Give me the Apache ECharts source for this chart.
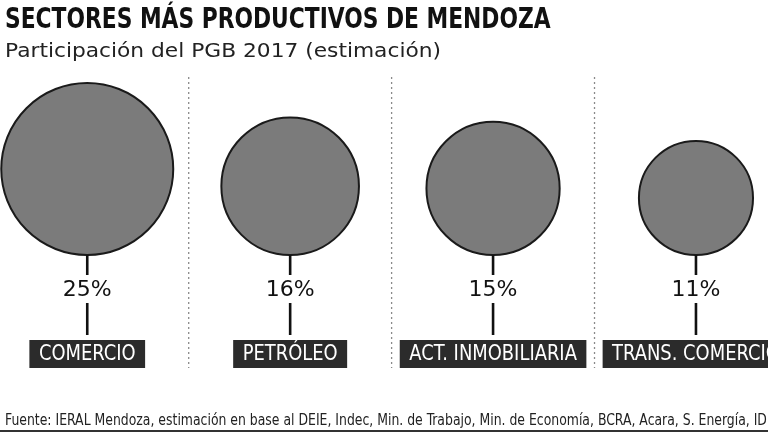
<!DOCTYPE html>
<html>
<head>
<meta charset="utf-8">
<script src="https://cdn.jsdelivr.net/npm/echarts@6/dist/echarts.min.js"></script>
<style>
  html, body { margin: 0; padding: 0; background: #fff; }
  #chart { width: 768px; height: 432px; }
</style>
</head>
<body>
<div id="chart"></div>
<script>
// ---- data ----
const categories = ['COMERCIO', 'PETRÓLEO', 'ACT. INMOBILIARIA', 'TRANS. COMERCIO'];
const shares = [25, 16, 15, 11];
const titleText = 'SECTORES MÁS PRODUCTIVOS DE MENDOZA';
const subtitleText = 'Participación del PGB 2017 (estimación)';
const sourceText = 'Fuente: IERAL Mendoza, estimación en base al DEIE, Indec, Min. de Trabajo, Min. de Economía, BCRA, Acara, S. Energía, IDITS';

// ---- layout constants ----
const BASE = 113;            // y value (px units) of circle bottoms
const cond = '"DejaVu Sans Condensed", "Liberation Sans Narrow", sans-serif';

const chart = echarts.init(document.getElementById('chart'), null, { renderer: 'canvas' });

const option = {
  backgroundColor: '#ffffff',
  animation: false,
  grid: { left: 0, right: 0, top: 77, bottom: 64 },
  xAxis: {
    type: 'value', min: -0.43, max: 3.355,
    show: false, splitLine: { show: false }
  },
  yAxis: {
    type: 'value', min: 0, max: 291,
    show: false, splitLine: { show: false }
  },
  series: [
    {
      // dotted separators between sectors
      type: 'custom',
      data: categories.slice(1).map((_, i) => [i + 0.5]),
      z: 1,
      renderItem: (params, api) => {
        const top = api.coord([api.value(0), 291]);
        const bot = api.coord([api.value(0), 0]);
        return { type: 'line', shape: { x1: top[0], y1: top[1], x2: bot[0], y2: bot[1] },
                 style: { stroke: '#8a8a8a', lineWidth: 1.3, lineDash: [2, 3] } };
      }
    },
    {
      type: 'scatter',
      data: shares.map((v, i) => [i, BASE, v]),
      symbol: 'circle',
      symbolSize: d => Math.sqrt(d[2]) * 34.4,
      symbolOffset: [0, '-50%'],
      itemStyle: { color: '#7b7b7b', borderColor: '#1a1a1a', borderWidth: 2, opacity: 1 },
      z: 3
    },
    {
      type: 'custom',
      data: shares.map((v, i) => [i, BASE, v]),
      z: 4,
      renderItem: (params, api) => {
        const p = api.coord([api.value(0), api.value(1)]);
        const x = p[0], y = p[1];
        const stroke = { stroke: '#111', lineWidth: 2.6 };
        return {
          type: 'group',
          children: [
            { type: 'line', shape: { x1: x, y1: y, x2: x, y2: y + 20 }, style: stroke },
            { type: 'text', x: x, y: y + 35, style: {
                text: api.value(2) + '%', fill: '#111', align: 'center', verticalAlign: 'middle',
                font: 'normal 22px "DejaVu Sans", sans-serif' } },
            { type: 'line', shape: { x1: x, y1: y + 48, x2: x, y2: y + 80 }, style: stroke },
            { type: 'text', x: x, y: y + 99, scaleX: 0.905, style: {
                text: categories[params.dataIndex], fill: '#fff', align: 'center', verticalAlign: 'middle',
                font: 'normal 22px ' + cond,
                backgroundColor: '#2b2b2b', padding: [3, 10.5, 3, 10.5] } }
          ]
        };
      }
    }
  ],
  graphic: [
    { type: 'text', left: 5, top: 7, scaleX: 0.865, style: {
        text: titleText, fill: '#111', font: 'bold 28px ' + cond } },
    { type: 'text', left: 5, top: 42, scaleX: 1.087, style: {
        text: subtitleText, fill: '#222', font: 'normal 20px "DejaVu Sans", sans-serif' } },
    { type: 'text', left: 5, top: 414, scaleX: 0.922, style: {
        text: sourceText, fill: '#222', font: 'normal 15px ' + cond } },
    { type: 'rect', left: 0, top: 430, shape: { width: 768, height: 2 }, style: { fill: '#333' } }
  ]
};

chart.setOption(option);
</script>
</body>
</html>
